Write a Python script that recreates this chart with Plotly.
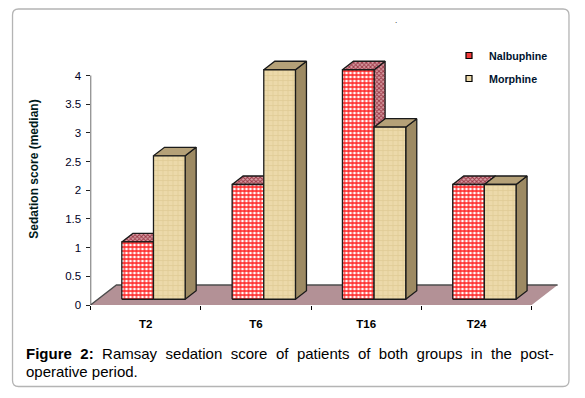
import plotly.graph_objects as go

categories = ["T2", "T6", "T16", "T24"]
nalbuphine = [1, 2, 4, 2]
morphine = [2.5, 4, 3, 2]
y_ticks = [0, 0.5, 1, 1.5, 2, 2.5, 3, 3.5, 4]
y_labels = ["0", "0.5", "1", "1.5", "2", "2.5", "3", "3.5", "4"]

W, H = 585, 398
PX_X, PX_Y = 110.3, 57.375
X0, Y0 = 90.5, 305.0
X_RANGE = [-0.5, 3.8]
Y_RANGE = [0, 4.74]
X1 = X0 + (X_RANGE[1] - X_RANGE[0]) * PX_X
YT = Y0 - (Y_RANGE[1] - Y_RANGE[0]) * PX_Y
BAR_W = 0.287
OFFS = {"n": -0.216, "m": 0.071}
DX, DY = 0.1, 0.148
LIFT = 0.1
FLOOR_DX, FLOOR_DY = 0.235, 0.348
n = len(categories)


def poly(fig, xs, ys, fill, line="#1a1a1a", width=1.3, pattern=None):
    fig.add_trace(go.Scatter(
        x=xs, y=ys, mode="lines", fill="toself", fillcolor=fill,
        fillpattern=pattern, line=dict(color=line, width=width),
        hoverinfo="skip", showlegend=False))


fig = go.Figure()

# floor
fig.add_trace(go.Scatter(
    x=[-0.5, n - 0.5, n - 0.5 + FLOOR_DX, -0.5 + FLOOR_DX, -0.5],
    y=[0, 0, FLOOR_DY, FLOOR_DY, 0],
    mode="lines", fill="toself", fillcolor="#b39196",
    line=dict(color="rgba(0,0,0,0)", width=0), hoverinfo="skip", showlegend=False))
fig.add_trace(go.Scatter(
    x=[-0.5, -0.5 + FLOOR_DX, n - 0.5 + FLOOR_DX],
    y=[0, FLOOR_DY, FLOOR_DY], mode="lines",
    line=dict(color="#4d4d4d", width=1.4), hoverinfo="skip", showlegend=False))
# value axis line, stops at the top tick
fig.add_trace(go.Scatter(
    x=[-0.5, -0.5], y=[y_ticks[0], y_ticks[-1]], mode="lines",
    line=dict(color="#333333", width=1.4), hoverinfo="skip", showlegend=False))

red_front = dict(shape="+", fgcolor="#ff1f1f", bgcolor="#ffffff", size=4, solidity=0.56, fillmode="replace")
red_dark = dict(shape="x", fgcolor="#9c3a48", bgcolor="#d9a0a6", size=3, solidity=0.55, fillmode="replace")
tan_front = dict(shape="+", fgcolor="#e0cb96", bgcolor="#ecd9aa", size=5, solidity=0.3, fillmode="replace")

for series, key, front, front_pat, top_c, side_c, top_pat, side_pat in [
    (nalbuphine, "n", "#ffffff", red_front, "#c0707a", "#b06a74", red_dark, red_dark),
    (morphine, "m", "#ecd9aa", tan_front, "#b5a178", "#9d8a63", None, None),
]:
    for i, v in enumerate(series):
        l = i + OFFS[key]
        r = l + BAR_W
        b = LIFT
        t = v + LIFT
        poly(fig, [r, r + DX, r + DX, r, r], [b, b + DY, t + DY, t, b], side_c, pattern=side_pat)
        poly(fig, [l, l + DX, r + DX, r, l], [t, t + DY, t + DY, t, t], top_c, pattern=top_pat)
        poly(fig, [l, r, r, l, l], [b, b, t, t, b], front, pattern=front_pat)

# legend entries
for name, color, group in [("Nalbuphine", "#f23a3a", "a"), ("Morphine", "#ecd9aa", "b")]:
    fig.add_trace(go.Scatter(
        x=[None], y=[None], mode="markers", name=name, legendgroup=group,
        marker=dict(symbol="square", size=6, color=color, line=dict(color="#000000", width=1.2))))

fig.update_layout(
    width=W, height=H, margin=dict(l=0, r=0, t=0, b=0, autoexpand=False),
    paper_bgcolor="white", plot_bgcolor="rgba(0,0,0,0)",
    font=dict(family="Liberation Sans", color="#000000"),
    showlegend=True,
    legend=dict(x=449 / W, y=1 - 41 / H, xanchor="left", yanchor="top",
                bgcolor="rgba(0,0,0,0)", tracegroupgap=4, itemwidth=30,
                font=dict(size=10.7, family="Liberation Sans", weight="bold", color="#00132e")),
    xaxis=dict(domain=[X0 / W, X1 / W], range=X_RANGE, tickmode="array",
               tickvals=list(range(n)), ticktext=categories, ticks="", showgrid=False,
               zeroline=False, showline=False, ticklabelstandoff=10,
               tickfont=dict(size=11.5, family="Liberation Sans", weight="bold"),
               minor=dict(tickmode="array", tickvals=[i - 0.5 for i in range(n + 1)],
                          ticks="outside", ticklen=4, tickwidth=1.2, tickcolor="#000000", showgrid=False)),
    yaxis=dict(domain=[1 - Y0 / H, 1 - YT / H], range=Y_RANGE, tickmode="array",
               tickvals=y_ticks, ticktext=y_labels, ticks="outside", ticklen=4, tickwidth=1.2,
               tickcolor="#222222", showline=False,
               showgrid=False, zeroline=False, tickfont=dict(size=11.5, color="#00001e"),
               ticklabelstandoff=2,
               title=dict(text="Sedation score (median)", standoff=23,
                          font=dict(size=12, family="Liberation Sans", weight="bold", color="#001a1a"))),
    shapes=[dict(type="path", xref="paper", yref="paper", layer="below",
                 path="M {:.4f} {:.4f} Q {:.4f} {:.4f} {:.4f} {:.4f} L {:.4f} {:.4f} Q {:.4f} {:.4f} {:.4f} {:.4f} "
                      "L {:.4f} {:.4f} Q {:.4f} {:.4f} {:.4f} {:.4f} L {:.4f} {:.4f} Q {:.4f} {:.4f} {:.4f} {:.4f} Z".format(
                     12.5 / W, 1 - 15 / H, 12.5 / W, 1 - 9 / H, 18.5 / W, 1 - 9 / H,
                     563 / W, 1 - 9 / H, 569 / W, 1 - 9 / H, 569 / W, 1 - 15 / H,
                     569 / W, 1 - 380.5 / H, 569 / W, 1 - 386.5 / H, 563 / W, 1 - 386.5 / H,
                     18.5 / W, 1 - 386.5 / H, 12.5 / W, 1 - 386.5 / H, 12.5 / W, 1 - 380.5 / H),
                 line=dict(color="#b4b4b4", width=1.3))],
    annotations=[
        dict(xref="paper", yref="paper", x=23.5 / W, y=1 - 364 / H, xanchor="left", yanchor="bottom",
             showarrow=False, align="left", font=dict(size=15, color="#000000"),
             text='<span style="word-spacing:4.3px"><b>Figure 2:</b> Ramsay sedation score of patients of both groups in the post-</span>'),
        dict(xref="paper", yref="paper", x=23.5 / W, y=1 - 382 / H, xanchor="left", yanchor="bottom",
             showarrow=False, align="left", font=dict(size=15, color="#000000"),
             text="operative period."),
        dict(xref="paper", yref="paper", x=398.5 / W, y=1 - 27 / H, showarrow=False, yanchor="bottom",
             text=".", font=dict(size=8, color="#000000")),
    ],
)

fig.write_html("out.html", config={"displayModeBar": False},
               post_script="document.body.style.margin='0';document.body.style.overflow='hidden';")
